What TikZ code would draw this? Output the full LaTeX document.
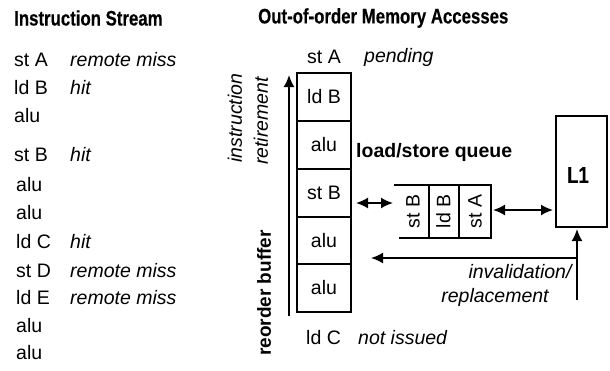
\documentclass[tikz,border=0pt]{standalone}
\usepackage{fontspec}
\setmainfont{Liberation Sans}
\newfontfamily\condfont[FakeStretch=0.8,FakeBold=0.3]{Liberation Sans Bold}
\usetikzlibrary{arrows.meta}
\tikzset{
  txt/.style={inner sep=0pt, anchor=west, font=\fontsize{19.5}{21}\selectfont},
  itx/.style={inner sep=0pt, anchor=west, font=\fontsize{19.5}{21}\selectfont\itshape},
  ttl/.style={inner sep=0pt, anchor=west, font=\fontsize{21}{23}\condfont},
  bld/.style={inner sep=0pt, font=\fontsize{19.5}{21}\selectfont\bfseries},
  robbox/.style={draw, line width=1.6pt, minimum width=54pt, minimum height=48pt, inner sep=0pt, font=\fontsize{19.5}{21}\selectfont},
  cell/.style={inner sep=0pt, minimum width=31pt, minimum height=53pt, font=\fontsize{19.5}{21}\selectfont},
  ln/.style={line width=1.6pt},
  arr/.style={line width=1.8pt, -{Latex[length=12pt,width=11pt]}},
  dbl/.style={line width=1.8pt, {Latex[length=12pt,width=11pt]}-{Latex[length=12pt,width=11pt]}},
}
\begin{document}
\begin{tikzpicture}[x=1pt,y=-1pt]
\useasboundingbox (0,0) rectangle (610,370);
% left column
\node[ttl] (t1) at (14,18) {Instruction Stream};
\node[txt] (s1) at (14,60) {st A};   \node[itx] (c1) at (70,60) {remote miss};
\node[txt] (s2) at (14,88) {ld B};   \node[itx] (c2) at (70,88) {hit};
\node[txt] (s3) at (14,116) {alu};
\node[txt] (s4) at (14,155) {st B};  \node[itx] (c4) at (70,155) {hit};
\node[txt] (s5) at (16,185) {alu};
\node[txt] (s6) at (16,213) {alu};
\node[txt] (s7) at (16,242) {ld C};  \node[itx] (c7) at (70,242) {hit};
\node[txt] (s8) at (16,271) {st D};  \node[itx] (c8) at (70,271) {remote miss};
\node[txt] (s9) at (16,298) {ld E};  \node[itx] (c9) at (70,298) {remote miss};
\node[txt] (s10) at (16,326) {alu};
\node[txt] (s11) at (16,353) {alu};
% right part
\node[ttl] (t2) at (258,18) {Out-of-order Memory Accesses};
\node[txt] (pa) at (307,57) {st A};  \node[itx] (pb) at (364,57) {pending};
\node[robbox] (r1) at (324,97) {ld B};
\node[robbox] (r2) at (324,145) {alu};
\node[robbox] (r3) at (324,193) {st B};
\node[robbox] (r4) at (324,240.5) {alu};
\node[robbox] (r5) at (324,288) {alu};
\node[txt] (na) at (306,338) {ld C};  \node[itx] (nb) at (358,338) {not issued};
% retirement arrow and labels
\coordinate (ra) at (289,316);
\coordinate (rb) at (289,75);
\draw[arr] (ra) -- (rb);
\node[bld, rotate=90, font=\fontsize{19}{21}\selectfont\bfseries] (rbuf) at (264,293) {reorder buffer};
\node[inner sep=0pt, rotate=90, font=\fontsize{19.5}{21}\selectfont\itshape] (ins) at (235,118) {instruction};
\node[inner sep=0pt, rotate=90, font=\fontsize{19.5}{21}\selectfont\itshape] (ret) at (261,121) {retirement};
% load/store queue
\node[bld, anchor=west] (lsql) at (356,152) {load/store queue};
\node[cell] (q1) at (413,211.5) {\rotatebox{90}{st B}};
\node[cell] (q2) at (443.5,211.5) {\rotatebox{90}{ld B}};
\node[cell] (q3) at (475,211.5) {\rotatebox{90}{st A}};
\draw[ln] ([xshift=-3pt]q1.north west) -- (q3.north east) -- (q3.south east) -- ([xshift=2pt]q1.south west);
\draw[ln] (q1.north east) -- (q1.south east);
\draw[ln] (q2.north east) -- (q2.south east);
% L1
\node[draw, line width=1.6pt, minimum width=51pt, minimum height=111pt, inner sep=0pt] (l1) at (581.5,171.5) {};
\node[inner sep=0pt, font=\fontsize{23}{25}\condfont] (l1t) at (578,175) {L1};
% arrows
\coordinate (d1a) at (356,203);
\coordinate (d1b) at (393,203);
\draw[dbl] (d1a) -- (d1b);
\coordinate (d2a) at (493,210);
\coordinate (d2b) at (553,210);
\draw[dbl] (d2a) -- (d2b);
\coordinate (ua) at (577,300);
\coordinate (ub) at (577,229);
\draw[arr] (ua) -- (ub);
\coordinate (ha) at (578,258);
\coordinate (hb) at (371,258);
\draw[arr] (ha) -- (hb);
\node[inner sep=0pt, font=\fontsize{19.5}{21}\selectfont\itshape] (inv) at (520,272) {invalidation/};
\node[inner sep=0pt, font=\fontsize{19.5}{21}\selectfont\itshape] (rep) at (495,297) {replacement};
\end{tikzpicture}
\end{document}
